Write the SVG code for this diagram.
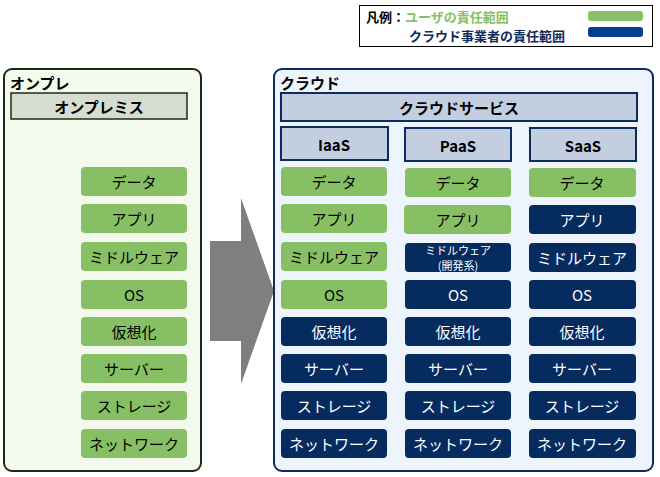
<svg xmlns="http://www.w3.org/2000/svg" width="660" height="477" viewBox="0 0 660 477">
<style>
text{font-family:"Noto Sans CJK JP","Noto Sans",sans-serif;font-size:15px;text-anchor:middle;dominant-baseline:central}
.b{font-weight:bold}
.g{fill:#87bf64}
.d{fill:#062b5e}
.dt{fill:#fff}
.h{fill:#c3cfe0;stroke:#0d2b5c;stroke-width:2}
</style>
<rect width="660" height="477" fill="#fff"/>
<g id="legend">
<rect x="359.5" y="5.5" width="293" height="41" fill="#fff" stroke="#000"/>
<text x="366" y="16" class="b" style="text-anchor:start;font-size:13px">凡例：<tspan fill="#87bf64">ユーザの責任範囲</tspan></text>
<text x="409" y="35" class="b" style="text-anchor:start;font-size:13px" fill="#0d2b5c">クラウド事業者の責任範囲</text>
<rect x="588" y="11" width="55" height="10" rx="3" fill="#87bf64"/>
<rect x="588" y="27" width="55" height="10" rx="3" fill="#00408f"/>
</g>
<g id="onprem">
<rect x="4" y="69" width="197" height="402" rx="8" fill="#f4f9ee" stroke="#1d2a14" stroke-width="2"/>
<text x="10" y="82" class="b" style="text-anchor:start">オンプレ</text>
<rect x="11" y="93" width="176" height="26" fill="#d6dccf" stroke="#1d2a14" stroke-width="1.5"/>
<text x="99" y="106" class="b">オンプレミス</text>
</g>
<g id="arrow"><polygon points="210,241 241,241 241,198 274,291 241,384 241,341 210,341" fill="#7f7f7f"/></g>
<g id="cloud">
<rect x="274" y="69" width="379" height="402" rx="8" fill="#eef4fc" stroke="#0d2b5c" stroke-width="2"/>
<text x="280" y="82" class="b" style="text-anchor:start">クラウド</text>
<rect class="h" x="281" y="93" width="356" height="28"/><text x="459" y="107" class="b">クラウドサービス</text>
<rect class="h" x="281" y="127" width="107" height="33"/><text x="334" y="144" class="b">IaaS</text>
<rect class="h" x="405" y="128" width="106" height="33"/><text x="458" y="145" class="b">PaaS</text>
<rect class="h" x="530" y="128" width="106" height="33"/><text x="583" y="145" class="b">SaaS</text>
</g>
<g id="items">
<rect class="g" x="81" y="167" width="106" height="29" rx="4"/><text x="134" y="181">データ</text>
<rect class="g" x="81" y="204" width="106" height="29" rx="4"/><text x="134" y="218">アプリ</text>
<rect class="g" x="81" y="242" width="106" height="29" rx="4"/><text x="134" y="256">ミドルウェア</text>
<rect class="g" x="81" y="280" width="106" height="29" rx="4"/><text x="134" y="294">OS</text>
<rect class="g" x="81" y="317" width="106" height="29" rx="4"/><text x="134" y="331">仮想化</text>
<rect class="g" x="81" y="354" width="106" height="29" rx="4"/><text x="134" y="368">サーバー</text>
<rect class="g" x="81" y="391" width="106" height="29" rx="4"/><text x="134" y="405">ストレージ</text>
<rect class="g" x="81" y="429" width="106" height="29" rx="4"/><text x="134" y="443">ネットワーク</text>

<rect class="g" x="281" y="167" width="106" height="29" rx="4"/><text x="334" y="181">データ</text>
<rect class="g" x="281" y="204" width="106" height="29" rx="4"/><text x="334" y="218">アプリ</text>
<rect class="g" x="281" y="242" width="106" height="29" rx="4"/><text x="334" y="256">ミドルウェア</text>
<rect class="g" x="281" y="280" width="106" height="29" rx="4"/><text x="334" y="294">OS</text>
<rect class="d" x="281" y="317" width="106" height="29" rx="4"/><text class="dt" x="334" y="331">仮想化</text>
<rect class="d" x="281" y="354" width="106" height="29" rx="4"/><text class="dt" x="334" y="368">サーバー</text>
<rect class="d" x="281" y="391" width="106" height="29" rx="4"/><text class="dt" x="334" y="405">ストレージ</text>
<rect class="d" x="281" y="429" width="106" height="29" rx="4"/><text class="dt" x="334" y="443">ネットワーク</text>

<rect class="g" x="405" y="168" width="106" height="29" rx="4"/><text x="458" y="182">データ</text>
<rect class="g" x="404" y="205" width="107" height="29" rx="4"/><text x="458" y="219">アプリ</text>
<rect class="d" x="405" y="243" width="106" height="29" rx="4"/><text class="dt" x="458" y="250" style="font-size:11px">ミドルウェア</text><text class="dt" x="458" y="265" style="font-size:11px">(開発系)</text>
<rect class="d" x="405" y="280" width="106" height="29" rx="4"/><text class="dt" x="458" y="294">OS</text>
<rect class="d" x="405" y="317" width="106" height="29" rx="4"/><text class="dt" x="458" y="331">仮想化</text>
<rect class="d" x="405" y="354" width="106" height="29" rx="4"/><text class="dt" x="458" y="368">サーバー</text>
<rect class="d" x="405" y="391" width="106" height="29" rx="4"/><text class="dt" x="458" y="405">ストレージ</text>
<rect class="d" x="405" y="429" width="106" height="29" rx="4"/><text class="dt" x="458" y="443">ネットワーク</text>

<rect class="g" x="529" y="168" width="107" height="29" rx="4"/><text x="582" y="182">データ</text>
<rect class="d" x="529" y="205" width="107" height="29" rx="4"/><text class="dt" x="582" y="219">アプリ</text>
<rect class="d" x="529" y="243" width="107" height="29" rx="4"/><text class="dt" x="582" y="257">ミドルウェア</text>
<rect class="d" x="529" y="280" width="107" height="29" rx="4"/><text class="dt" x="582" y="294">OS</text>
<rect class="d" x="529" y="317" width="107" height="29" rx="4"/><text class="dt" x="582" y="331">仮想化</text>
<rect class="d" x="529" y="354" width="107" height="29" rx="4"/><text class="dt" x="582" y="368">サーバー</text>
<rect class="d" x="529" y="391" width="107" height="29" rx="4"/><text class="dt" x="582" y="405">ストレージ</text>
<rect class="d" x="529" y="429" width="107" height="29" rx="4"/><text class="dt" x="582" y="443">ネットワーク</text>
</g>
</svg>
